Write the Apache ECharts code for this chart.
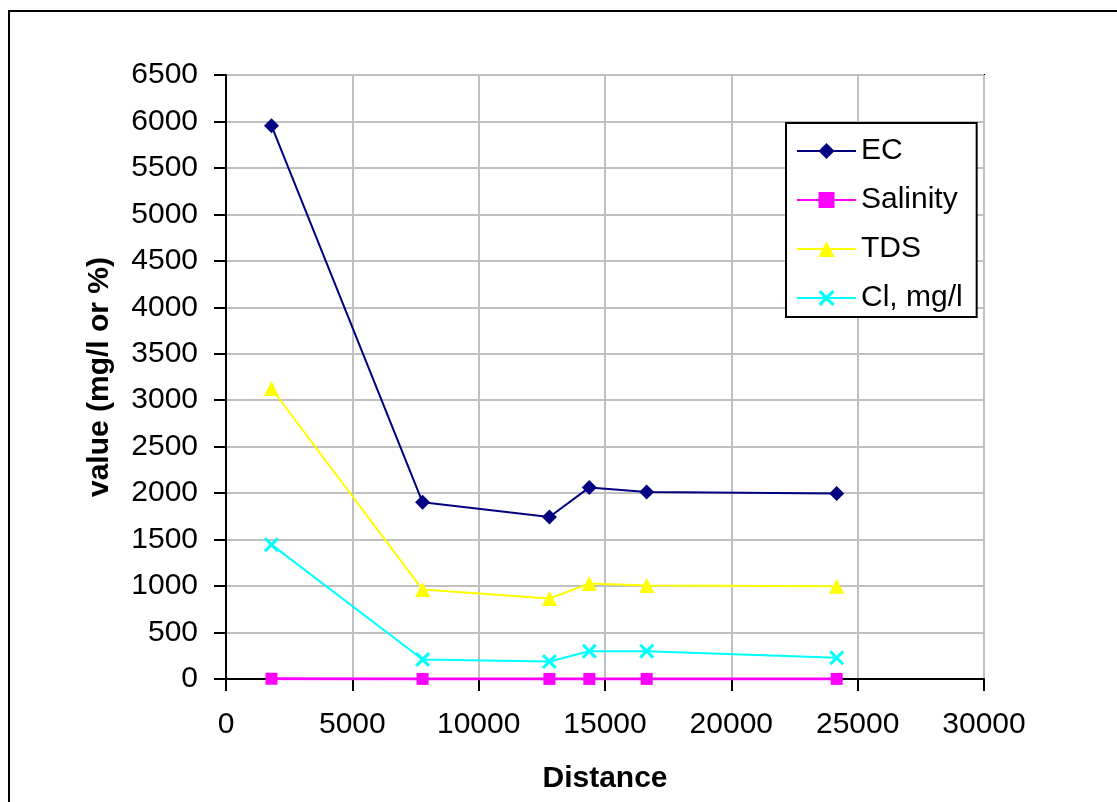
<!DOCTYPE html>
<html>
<head>
<meta charset="utf-8">
<script src="https://cdn.jsdelivr.net/npm/echarts@6/dist/echarts.min.js"></script>
<style>
html,body{margin:0;padding:0;background:#fff;}
#chart{width:1117px;height:802px;}
</style>
</head>
<body>
<div id="chart"></div>
<script>
const distance = [1800, 7780, 12800, 14380, 16650, 24170];
const ecValues = [5955, 1901, 1744, 2062, 2013, 1995];
const salinityValues = [3, 1, 1, 1, 1, 1];
const tdsValues = [3126, 962, 866, 1027, 1005, 998];
const clValues = [1446, 210, 188, 299, 299, 228];
const seriesNames = ['EC', 'Salinity', 'TDS', 'Cl, mg/l'];

function pairs(xs, ys){ return xs.map((x,i)=>[x, ys[i]]); }

const FONT = 'Liberation Sans, Arial, sans-serif';
const xMark = 'path://M0,2L2,0L7,5L12,0L14,2L9,7L14,12L12,14L7,9L2,14L0,12L5,7Z';
const plain = v => String(v);

const chart = echarts.init(document.getElementById('chart'), null, {renderer:'canvas'});
chart.setOption({
  backgroundColor: '#fff',
  animation: false,
  graphic: [{
    type: 'rect', z: -10,
    shape: {x: 9, y: 11, width: 1200, height: 900},
    style: {fill: 'none', stroke: '#000', lineWidth: 2}
  }],
  grid: {
    left: 226, top: 75, right: 133, bottom: 123,
    show: true, borderColor: '#000', borderWidth: 2, backgroundColor: '#fff'
  },
  legend: {
    orient: 'vertical',
    left: 786, top: 123,
    padding: [13, 14, 4, 10],
    itemWidth: 59, itemHeight: 20, itemGap: 19, itemTextGap: 7,
    borderColor: '#000', borderWidth: 2,
    backgroundColor: '#fff',
    textStyle: {fontFamily: FONT, fontSize: 30, color: '#000', lineHeight: 30},
    data: seriesNames
  },
  xAxis: {
    type: 'value', min: 0, max: 30000, interval: 5000,
    name: 'Distance', nameLocation: 'middle', nameGap: 85,
    nameTextStyle: {fontFamily: FONT, fontSize: 30, fontWeight: 'bold', color: '#000'},
    axisLine: {show: true, onZero: false, lineStyle: {color: '#000', width: 2}},
    axisTick: {show: true, length: 12, lineStyle: {color: '#000', width: 2}},
    axisLabel: {fontFamily: FONT, fontSize: 30, color: '#000', margin: 31, formatter: plain},
    splitLine: {show: true, lineStyle: {color: '#C0C0C0', width: 2}}
  },
  yAxis: {
    type: 'value', min: 0, max: 6500, interval: 500,
    name: 'value (mg/l or %)', nameLocation: 'middle', nameGap: 111,
    nameTextStyle: {fontFamily: FONT, fontSize: 30, fontWeight: 'bold', color: '#000'},
    axisLine: {show: true, lineStyle: {color: '#000', width: 2}},
    axisTick: {show: true, length: 12, lineStyle: {color: '#000', width: 2}},
    axisLabel: {fontFamily: FONT, fontSize: 30, color: '#000', margin: 28, formatter: plain},
    splitLine: {show: true, lineStyle: {color: '#C0C0C0', width: 2}}
  },
  series: [
    {
      name: 'EC', type: 'line', data: pairs(distance, ecValues),
      symbol: 'diamond', symbolSize: 15, showAllSymbol: true,
      lineStyle: {color: '#000080', width: 2},
      itemStyle: {color: '#000080'}, z: 5
    },
    {
      name: 'Salinity', type: 'line', data: pairs(distance, salinityValues),
      symbol: 'rect', symbolSize: 12, showAllSymbol: true,
      lineStyle: {color: '#FF00FF', width: 3},
      itemStyle: {color: '#FF00FF'}, z: 4
    },
    {
      name: 'TDS', type: 'line', data: pairs(distance, tdsValues),
      symbol: 'triangle', symbolSize: 15, showAllSymbol: true,
      lineStyle: {color: '#FFFF00', width: 2},
      itemStyle: {color: '#FFFF00'}, z: 3
    },
    {
      name: 'Cl, mg/l', type: 'line', data: pairs(distance, clValues),
      symbol: xMark, symbolSize: 15, showAllSymbol: true,
      lineStyle: {color: '#00FFFF', width: 2},
      itemStyle: {color: '#00FFFF'}, z: 3
    }
  ]
});
</script>
</body>
</html>
